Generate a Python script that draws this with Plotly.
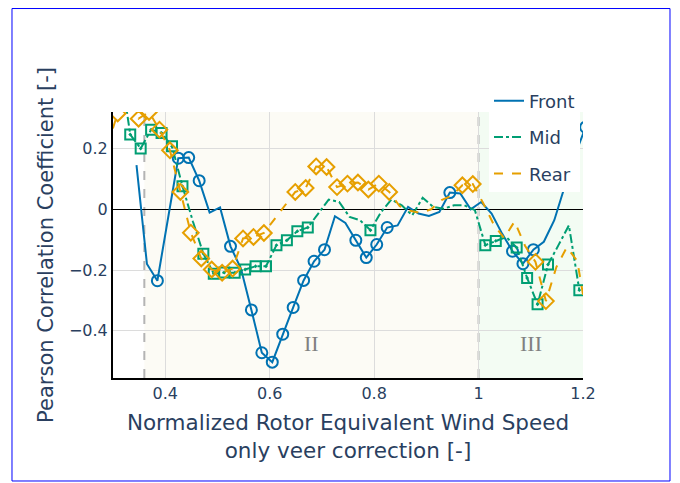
import plotly.graph_objects as go

# ---------------- data ----------------
front_x = [0.345, 0.365, 0.385, 0.405, 0.425, 0.445, 0.465, 0.485, 0.505, 0.525,
           0.545, 0.565, 0.585, 0.605, 0.625, 0.645, 0.665, 0.685, 0.705, 0.725,
           0.745, 0.765, 0.785, 0.805, 0.825, 0.845, 0.865, 0.885, 0.905, 0.925,
           0.945, 0.965, 0.985, 1.005, 1.025, 1.045, 1.065, 1.085, 1.105, 1.125,
           1.145, 1.165, 1.185, 1.205]
front_y = [0.145, -0.18, -0.235, -0.03, 0.168, 0.170, 0.094, -0.011, 0.006, -0.122,
           -0.195, -0.331, -0.472, -0.503, -0.411, -0.323, -0.234, -0.171, -0.133, -0.023,
           -0.045, -0.102, -0.159, -0.116, -0.060, -0.053, 0.008, -0.014, -0.022, -0.009,
           0.055, 0.052, 0.0, 0.024, -0.014, -0.08, -0.138, -0.179, -0.133, -0.107,
           -0.036, 0.075, 0.18, 0.27]
front_sig = [0, 0, 1, 0, 1, 1, 1, 0, 0, 1,
             0, 1, 1, 1, 1, 1, 1, 1, 1, 0,
             0, 1, 1, 1, 1, 0, 0, 0, 0, 0,
             1, 0, 0, 0, 0, 0, 1, 1, 1, 0,
             0, 0, 0, 1]

mid_x = [0.313, 0.333, 0.353, 0.373, 0.393, 0.413, 0.433, 0.453, 0.473, 0.493,
         0.513, 0.533, 0.553, 0.573, 0.593, 0.613, 0.633, 0.653, 0.673, 0.693,
         0.713, 0.733, 0.753, 0.773, 0.793, 0.813, 0.833, 0.853, 0.873, 0.893,
         0.913, 0.933, 0.953, 0.973, 0.993, 1.013, 1.033, 1.053, 1.073, 1.093,
         1.113, 1.133, 1.153, 1.173, 1.193]
mid_y = [0.48, 0.246, 0.200, 0.262, 0.251, 0.207, 0.076, -0.04, -0.146, -0.212,
         -0.208, -0.209, -0.198, -0.1875, -0.1875, -0.118, -0.102, -0.072, -0.060, -0.014,
         0.032, 0.024, -0.025, -0.036, -0.069, -0.01, 0.032, 0.013, -0.02, 0.038,
         0.008, 0.002, 0.013, 0.013, -0.003, -0.118, -0.104, -0.091, -0.126, -0.226,
         -0.3125, -0.182, -0.118, -0.053, -0.266]
mid_sig = [0, 1, 1, 1, 1, 1, 1, 0, 1, 1,
           1, 1, 1, 1, 1, 1, 1, 1, 1, 0,
           0, 0, 0, 0, 1, 0, 0, 0, 0, 0,
           0, 0, 0, 0, 0, 1, 1, 0, 1, 1,
           1, 1, 0, 0, 1]

rear_x = [0.289, 0.309, 0.329, 0.349, 0.369, 0.389, 0.409, 0.429, 0.449, 0.469,
          0.489, 0.509, 0.529, 0.549, 0.569, 0.589, 0.609, 0.629, 0.649, 0.669,
          0.689, 0.709, 0.729, 0.749, 0.769, 0.789, 0.809, 0.829, 0.849, 0.869,
          0.889, 0.909, 0.929, 0.949, 0.969, 0.989, 1.009, 1.029, 1.049, 1.069,
          1.089, 1.109, 1.129, 1.149, 1.169, 1.189, 1.209]
rear_y = [0.21, 0.315, 0.36, 0.298, 0.32, 0.262, 0.194, 0.057, -0.077, -0.162,
          -0.198, -0.209, -0.195, -0.096, -0.091, -0.078, -0.033, 0.012, 0.057, 0.070,
          0.141, 0.139, 0.073, 0.0845, 0.088, 0.065, 0.0845, 0.057, 0.01, -0.005,
          -0.012, 0.0, 0.03, 0.045, 0.079, 0.083, 0.02, -0.05, -0.095, -0.04,
          -0.12, -0.173, -0.302, -0.19, -0.125, -0.17, -0.37]
rear_sig = [0, 1, 1, 1, 1, 1, 1, 1, 1, 1,
            1, 1, 1, 1, 1, 1, 0, 0, 1, 1,
            1, 1, 1, 1, 1, 1, 1, 1, 0, 0,
            0, 0, 0, 0, 1, 1, 0, 0, 0, 0,
            0, 1, 1, 0, 0, 0, 0]

series = [
    ("Front", front_x, front_y, front_sig, "#0072B2", "solid", "circle-open", 11),
    ("Mid", mid_x, mid_y, mid_sig, "#009E73", "dashdot", "square-open-dot", 10),
    ("Rear", rear_x, rear_y, rear_sig, "#E69F00", "dash", "diamond-open", 12),
]

region_bounds = [0.36, 1.0, 1.2]
region_labels = ["II", "III"]
region_label_x = [0.68, 1.10]
region_label_y = -0.44

FONT = "DejaVu Sans, Verdana, sans-serif"

fig = go.Figure()
for i, (name, xs, ys, sig, col, dash, sym, msz) in enumerate(series):
    fig.add_trace(go.Scatter(x=xs, y=ys, mode="lines", name=name, legendgroup=name,
                             line=dict(color=col, width=2, dash=dash)))
    fig.add_trace(go.Scatter(x=[a for a, s in zip(xs, sig) if s],
                             y=[b for b, s in zip(ys, sig) if s],
                             mode="markers", showlegend=False, legendgroup=name,
                             marker=dict(symbol=sym, size=msz, color=col,
                                         line=dict(width=2, color=col))))

shapes = [
    dict(type="rect", xref="x", yref="y domain", x0=region_bounds[0], x1=region_bounds[1],
         y0=0, y1=1, fillcolor="#fcfbf5", line=dict(width=0), layer="below"),
    dict(type="rect", xref="x", yref="y domain", x0=region_bounds[1], x1=region_bounds[2],
         y0=0, y1=1, fillcolor="#f3fcf3", line=dict(width=0), layer="below"),
    dict(type="line", xref="x", yref="y domain", x0=region_bounds[0], x1=region_bounds[0],
         y0=0, y1=1, line=dict(color="#b4b4b4", width=2, dash="dash"), layer="below"),
    dict(type="line", xref="x", yref="y domain", x0=region_bounds[1], x1=region_bounds[1],
         y0=0, y1=1, line=dict(color="#b4b4b4", width=2, dash="dash"), layer="below"),
    dict(type="rect", xref="paper", yref="paper", x0=-0.2149, x1=1.1851, y0=-0.3872, y1=1.389,
         line=dict(color="#0000ff", width=1), fillcolor="rgba(0,0,0,0)", layer="above"),
]

annotations = [
    dict(x=lx, y=region_label_y, xref="x", yref="y", text=t, showarrow=False,
         font=dict(family="Liberation Serif, Times New Roman, serif", size=22, color="#808080"))
    for t, lx in zip(region_labels, region_label_x)
]

fig.update_layout(
    width=680, height=483,
    margin=dict(l=105, r=105, t=104, b=113, autoexpand=False),
    paper_bgcolor="white", plot_bgcolor="white",
    font=dict(family=FONT, color="#2a3f5f"),
    shapes=shapes, annotations=annotations,
    legend=dict(x=0.80, y=1.111, xanchor="left", yanchor="top",
                bgcolor="white", font=dict(size=18, family=FONT),
                tracegroupgap=10),
    showlegend=True,
)
fig.update_xaxes(range=[0.3, 1.2], tickvals=[0.4, 0.6, 0.8, 1.0, 1.2],
                 ticktext=["0.4", "0.6", "0.8", "1", "1.2"],
                 showgrid=True, gridcolor="#dcdcdc", gridwidth=1,
                 showline=True, linecolor="black", linewidth=2,
                 zeroline=False, ticks="", tickfont=dict(size=16),
                 title=dict(text="Normalized Rotor Equivalent Wind Speed<br>only veer correction [-]",
                            font=dict(size=21.5), standoff=13),
                 automargin=False)
fig.update_yaxes(range=[-0.555, 0.32], tickvals=[-0.4, -0.2, 0, 0.2],
                 showgrid=True, gridcolor="#dcdcdc", gridwidth=1,
                 showline=True, linecolor="black", linewidth=2,
                 zeroline=True, zerolinecolor="black", zerolinewidth=1,
                 ticks="", tickfont=dict(size=16),
                 title=dict(text="Pearson Correlation Coefficient [-]", font=dict(size=21), standoff=10),
                 automargin=False)

fig.write_html("out.html")
